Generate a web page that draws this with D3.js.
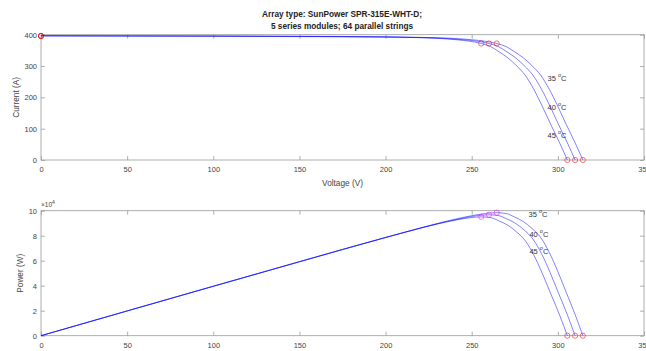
<!DOCTYPE html>
<html>
<head>
<meta charset="utf-8">
<script src="https://cdn.jsdelivr.net/npm/d3@7"></script>
<style>
  body { margin: 0; background: #fff; }
  text { font-family: 'Liberation Sans', Arial, sans-serif; }
</style>
</head>
<body>
<div class="chart"></div>
<script>
// PV array I-V and P-V curves at three cell temperatures

const VOLT_TICKS = [0, 50, 100, 150, 200, 250, 300, 350]
const CURRENT_TICKS = [0, 100, 200, 300, 400]
const POWER_TICKS = [0, 20000, 40000, 60000, 80000, 100000]
const TEMPS = ['35', '40', '45']

// 35 degC
const v35 = [0, 50, 100, 150, 200, 225, 240, 250, 258, 264.5, 270, 275, 280, 285, 290, 295, 300, 305, 310, 314.5]
const i35 = [396, 395.5, 395, 394, 392.5, 391, 388, 384, 379, 372, 362, 345, 326, 301, 271, 226, 171, 112, 55, 0]
const p35 = [0, 19775, 39500, 59100, 78500, 87975, 93120, 96000, 97782, 98394, 97740, 94875, 91280, 85785, 78590, 66670, 51300, 34160, 17050, 0]

// 40 degC
const v40 = [0, 50, 100, 150, 200, 220, 235, 245, 253.5, 260, 265.5, 270.5, 275.5, 280.5, 285.5, 290.5, 295.5, 300.5, 305.5, 310]
const i40 = [396.5, 396, 395.5, 394.5, 393, 391, 388, 384, 379, 372, 362, 345, 326, 301, 271, 226, 171, 112, 55, 0]
const p40 = [0, 19800, 39550, 59175, 78600, 86020, 91180, 94080, 96077, 96720, 96111, 93323, 89813, 84431, 77371, 65653, 50531, 33656, 16803, 0]

// 45 degC
const v45 = [0, 50, 100, 150, 200, 216, 231, 241, 249, 255.5, 261, 266, 271, 276, 281, 286, 291, 296, 301, 305.5]
const i45 = [397, 396.5, 396, 395, 393, 391, 388, 384, 379, 372, 362, 345, 326, 301, 271, 226, 171, 112, 55, 0]
const p45 = [0, 19825, 39600, 59250, 78600, 84456, 89628, 92544, 94371, 95046, 94482, 91770, 88346, 83076, 76151, 64636, 49761, 33152, 16555, 0]

// marked points (35, 40, 45)
const MPP_V = [264.5, 260, 255.5]
const MPP_I = [372, 372, 372]
const MPP_P = [98394, 96720, 95046]
const VOC = [314.5, 310, 305.5]
const ISC = 396

const volts = [v35, v40, v45]
const currents = [i35, i40, i45]
const powers = [p35, p40, p45]

var svgWidth = 646
var svgHeight = 351

var svg = d3.select('.chart')
    .append('svg')
    .attr('width', svgWidth)
    .attr('height', svgHeight)

var axisColor = '#9a9a9a'
var textColor = '#444'
var curveColor = 'rgba(0, 0, 255, 0.55)'

var left = 41, right = 644

var xScale = d3.scaleLinear()
    .domain([0, 350])
    .range([left, right])

// Title
var title = svg.append('text')
    .attr('text-anchor', 'middle')
    .attr('font-size', '8.25px')
    .attr('font-weight', 'bold')
    .attr('fill', '#222')
title.append('tspan').attr('x', 342).attr('y', 17).text('Array type: SunPower SPR-315E-WHT-D;')
title.append('tspan').attr('x', 342).attr('y', 29).text('5 series modules; 64 parallel strings')

function drawPanel(top, bottom, yDomain, yTicks, yFormat, yLabel, labelX, xLabel) {
    var yScale = d3.scaleLinear().domain(yDomain).range([bottom, top])
    var g = svg.append('g')

    // box
    g.append('rect')
        .attr('x', left).attr('y', top)
        .attr('width', right - left).attr('height', bottom - top)
        .attr('fill', 'none')
        .attr('stroke', axisColor)
        .attr('stroke-width', 0.8)

    var xb = g.append('g')
        .attr('transform', `translate(0, ${bottom})`)
        .call(d3.axisBottom(xScale).tickValues(VOLT_TICKS).tickFormat(d3.format('d'))
            .tickSizeInner(-4).tickSizeOuter(0).tickPadding(7))
    var xt = g.append('g')
        .attr('transform', `translate(0, ${top})`)
        .call(d3.axisTop(xScale).tickValues(VOLT_TICKS).tickFormat('')
            .tickSizeInner(-4).tickSizeOuter(0))
    var yl = g.append('g')
        .attr('transform', `translate(${left}, 0)`)
        .call(d3.axisLeft(yScale).tickValues(yTicks).tickFormat(yFormat)
            .tickSizeInner(-4).tickSizeOuter(0).tickPadding(4))
    var yr = g.append('g')
        .attr('transform', `translate(${right}, 0)`)
        .call(d3.axisRight(yScale).tickValues(yTicks).tickFormat('')
            .tickSizeInner(-4).tickSizeOuter(0))

    ;[xb, xt, yl, yr].forEach(a => {
        a.select('.domain').remove()
        a.selectAll('line').attr('stroke', axisColor).attr('stroke-width', 0.8)
        a.selectAll('text').attr('fill', textColor).attr('font-size', '7.5px')
            .attr('font-family', "'Liberation Sans', Arial, sans-serif")
    })

    g.append('text')
        .attr('transform', `translate(${labelX}, ${(top + bottom) / 2}) rotate(-90)`)
        .attr('text-anchor', 'middle')
        .attr('dominant-baseline', 'middle')
        .attr('font-size', '8.25px')
        .attr('fill', textColor)
        .text(yLabel)

    if (xLabel) {
        g.append('text')
            .attr('x', (left + right) / 2)
            .attr('y', bottom + 26)
            .attr('text-anchor', 'middle')
            .attr('font-size', '8.25px')
            .attr('fill', textColor)
            .text(xLabel)
    }
    return { g: g, y: yScale }
}

function tempLabel(g, x, y, t) {
    var txt = g.append('text')
        .attr('x', x).attr('y', y)
        .attr('dominant-baseline', 'middle')
        .attr('font-size', '7.5px')
        .attr('fill', '#333')
    txt.append('tspan').text(t + ' ')
    txt.append('tspan').attr('font-size', '5.5px').attr('dy', -3).text('o')
    txt.append('tspan').attr('dy', 3).text('C')
}

function drawCircle(g, x, y, color) {
    g.append('circle')
        .attr('cx', x).attr('cy', y).attr('r', 2.6)
        .attr('fill', 'none')
        .attr('stroke', color)
        .attr('stroke-opacity', 0.6)
        .attr('stroke-width', 0.9)
}

// ---- I-V panel
var iv = drawPanel(34.7, 160, [0, 400], CURRENT_TICKS, d3.format('d'), 'Current (A)', 16.7, 'Voltage (V)')

var ivLine = d3.line()
    .x(d => xScale(d[0]))
    .y(d => iv.y(d[1]))
    .curve(d3.curveMonotoneX)

volts.forEach((vs, k) => {
    iv.g.append('path')
        .datum(vs.map((v, j) => [v, currents[k][j]]))
        .attr('d', ivLine)
        .attr('fill', 'none')
        .attr('stroke', curveColor)
        .attr('stroke-width', 0.9)
})

TEMPS.forEach((t, k) => {
    drawCircle(iv.g, xScale(0), iv.y(ISC), 'red')
    drawCircle(iv.g, xScale(MPP_V[k]), iv.y(MPP_I[k]), 'red')
    drawCircle(iv.g, xScale(VOC[k]), iv.y(0), 'red')
})
tempLabel(iv.g, xScale(294), iv.y(258), '35')
tempLabel(iv.g, xScale(294), iv.y(166), '40')
tempLabel(iv.g, xScale(294), iv.y(77), '45')

// ---- P-V panel
var pv = drawPanel(210.7, 335.7, [0, 100000], POWER_TICKS, d => d / 10000, 'Power (W)', 21, null)

// exponent label
var ex = pv.g.append('text')
    .attr('x', left).attr('y', 207)
    .attr('font-size', '6.5px')
    .attr('fill', textColor)
ex.append('tspan').text('\u00d710')
ex.append('tspan').attr('font-size', '5px').attr('dy', -3).text('4')

var pvLine = d3.line()
    .x(d => xScale(d[0]))
    .y(d => pv.y(d[1]))
    .curve(d3.curveMonotoneX)

volts.forEach((vs, k) => {
    pv.g.append('path')
        .datum(vs.map((v, j) => [v, powers[k][j]]))
        .attr('d', pvLine)
        .attr('fill', 'none')
        .attr('stroke', curveColor)
        .attr('stroke-width', 0.9)
})

TEMPS.forEach((t, k) => {
    drawCircle(pv.g, xScale(MPP_V[k]), pv.y(MPP_P[k]), 'magenta')
    drawCircle(pv.g, xScale(VOC[k]), pv.y(0), 'red')
})
tempLabel(pv.g, xScale(283), pv.y(96500), '35')
tempLabel(pv.g, xScale(283.5), pv.y(80500), '40')
tempLabel(pv.g, xScale(283.5), pv.y(67200), '45')
</script>
</body>
</html>
